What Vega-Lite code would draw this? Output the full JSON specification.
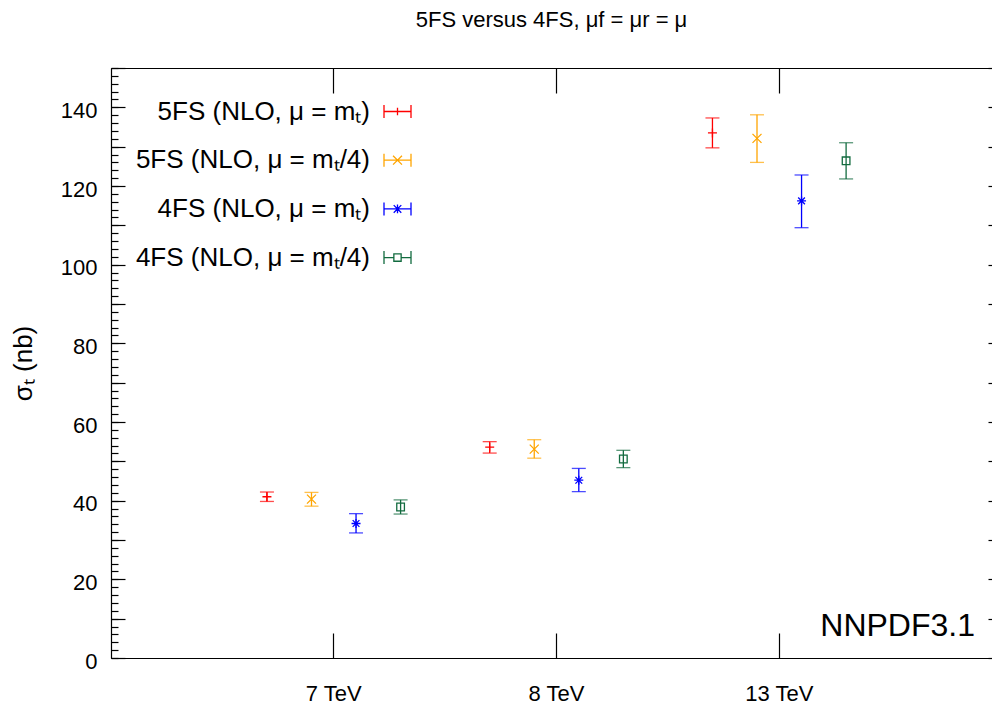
{
  "$schema": "https://vega.github.io/schema/vega-lite/v6.json",
  "width": 881,
  "height": 590,
  "autosize": {"type": "none"},
  "padding": {"left": 111, "top": 68, "right": 0, "bottom": 46},
  "title": {"text": "5FS versus 4FS, μf = μr = μ", "fontSize": 22, "fontWeight": "normal", "offset": 35, "anchor": "middle", "color": "#000"},
  "config": {
    "font": "Liberation Sans",
    "view": {"stroke": null},
    "axis": {"grid": false, "domainColor": "#000", "domainWidth": 1.2, "tickColor": "#000", "tickWidth": 1.2, "labelColor": "#000", "titleColor": "#000"}
  },
  "data": {"values": [
    {"energy": "7 TeV", "series": "5FS (NLO, μ = mₜ)", "val": 41.0, "lo": 39.8, "hi": 42.2},
    {"energy": "7 TeV", "series": "5FS (NLO, μ = mₜ/4)", "val": 40.4, "lo": 38.6, "hi": 42.1},
    {"energy": "7 TeV", "series": "4FS (NLO, μ = mₜ)", "val": 34.2, "lo": 31.8, "hi": 36.7},
    {"energy": "7 TeV", "series": "4FS (NLO, μ = mₜ/4)", "val": 38.4, "lo": 36.6, "hi": 40.2},
    {"energy": "8 TeV", "series": "5FS (NLO, μ = mₜ)", "val": 53.6, "lo": 52.1, "hi": 55.0},
    {"energy": "8 TeV", "series": "5FS (NLO, μ = mₜ/4)", "val": 53.1, "lo": 50.8, "hi": 55.5},
    {"energy": "8 TeV", "series": "4FS (NLO, μ = mₜ)", "val": 45.2, "lo": 42.3, "hi": 48.2},
    {"energy": "8 TeV", "series": "4FS (NLO, μ = mₜ/4)", "val": 50.6, "lo": 48.4, "hi": 52.8},
    {"energy": "13 TeV", "series": "5FS (NLO, μ = mₜ)", "val": 133.5, "lo": 129.7, "hi": 137.3},
    {"energy": "13 TeV", "series": "5FS (NLO, μ = mₜ/4)", "val": 132.1, "lo": 126.0, "hi": 138.1},
    {"energy": "13 TeV", "series": "4FS (NLO, μ = mₜ)", "val": 116.2, "lo": 109.4, "hi": 122.8},
    {"energy": "13 TeV", "series": "4FS (NLO, μ = mₜ/4)", "val": 126.4, "lo": 121.8, "hi": 131.0}
  ]},
  "layer": [
    {
      "mark": {"type": "rule", "strokeWidth": 1.3},
      "encoding": {
        "x": {"field": "energy", "type": "nominal", "sort": ["7 TeV", "8 TeV", "13 TeV"],
              "scale": {"paddingInner": 0, "paddingOuter": 0.4775, "align": 0.5236},
              "axis": {"orient": "bottom", "title": null, "ticks": false, "domain": true, "labelFontSize": 22, "labelPadding": 25, "labelAngle": 0}},
        "xOffset": {"field": "series", "type": "nominal", "sort": ["5FS (NLO, μ = mₜ)", "5FS (NLO, μ = mₜ/4)", "4FS (NLO, μ = mₜ)", "4FS (NLO, μ = mₜ/4)"],
                    "scale": {"paddingInner": 0, "paddingOuter": 0.5}},
        "y": {"field": "lo", "type": "quantitative", "scale": {"domain": [0, 150], "nice": false, "zero": true},
              "axis": {"orient": "left", "values": [0, 20, 40, 60, 80, 100, 120, 140], "ticks": false, "domain": true, "labelFontSize": 22, "labelPadding": 14, "labelOffset": 3, "title": "σₜ (nb)", "titleFontSize": 26, "titleFontWeight": "normal", "titlePadding": 24}},
        "y2": {"field": "hi"},
        "color": {"field": "series", "type": "nominal",
                  "scale": {"domain": ["5FS (NLO, μ = mₜ)", "5FS (NLO, μ = mₜ/4)", "4FS (NLO, μ = mₜ)", "4FS (NLO, μ = mₜ/4)"], "range": ["#ff0000", "#ffa500", "#0000ff", "#126b3f"]},
                  "legend": {"title": null, "orient": "none", "legendX": 272, "legendY": 29, "symbolSize": 729, "symbolStrokeWidth": 1.3, "labelFontSize": 26, "labelAlign": "right", "labelOffset": -42, "labelColor": "#000", "rowPadding": 20.7, "labelLimit": 400,
                             "encode": {"symbols": {"update": {
                               "shape": {"signal": "['M-1,0H1M-1,-0.48V0.48M1,-0.48V0.48M0,-0.28V0.28', 'M-1,0H1M-1,-0.48V0.48M1,-0.48V0.48M-0.33,-0.33L0.33,0.33M-0.33,0.33L0.33,-0.33', 'M-1,0H1M-1,-0.48V0.48M1,-0.48V0.48M0,-0.33V0.33M-0.28,-0.28L0.28,0.28M-0.28,0.28L0.28,-0.28', 'M-1,0H-0.27M0.27,0H1M-1,-0.48V0.48M1,-0.48V0.48M-0.27,-0.27H0.27V0.27H-0.27Z'][datum.index]"},
                               "fill": {"value": "transparent"},
                               "fillOpacity": {"value": 0},
                               "strokeWidth": {"value": 1.3}}}}}}
      }
    },
    {
      "mark": {"type": "tick", "orient": "horizontal", "size": 14, "thickness": 1.3},
      "encoding": {
        "x": {"field": "energy", "type": "nominal", "sort": ["7 TeV", "8 TeV", "13 TeV"],
              "axis": {"orient": "bottom", "title": null, "labels": false, "domain": false, "ticks": true, "tickSize": -25}},
        "xOffset": {"field": "series", "type": "nominal", "sort": ["5FS (NLO, μ = mₜ)", "5FS (NLO, μ = mₜ/4)", "4FS (NLO, μ = mₜ)", "4FS (NLO, μ = mₜ/4)"]},
        "y": {"field": "lo", "type": "quantitative",
              "axis": {"orient": "left", "values": [0, 10, 20, 30, 40, 50, 60, 70, 80, 90, 100, 110, 120, 130, 140, 150], "labels": false, "domain": false, "tickSize": -14, "title": null}},
        "fill": {"field": "series", "type": "nominal", "legend": null,
                 "scale": {"domain": ["5FS (NLO, μ = mₜ)", "5FS (NLO, μ = mₜ/4)", "4FS (NLO, μ = mₜ)", "4FS (NLO, μ = mₜ/4)"], "range": ["#ff0000", "#ffa500", "#0000ff", "#126b3f"]}}
      }
    },
    {
      "mark": {"type": "tick", "orient": "horizontal", "size": 14, "thickness": 1.3},
      "encoding": {
        "x": {"field": "energy", "type": "nominal", "sort": ["7 TeV", "8 TeV", "13 TeV"],
              "axis": {"orient": "top", "title": null, "labels": false, "domain": true, "ticks": true, "tickSize": -25}},
        "xOffset": {"field": "series", "type": "nominal", "sort": ["5FS (NLO, μ = mₜ)", "5FS (NLO, μ = mₜ/4)", "4FS (NLO, μ = mₜ)", "4FS (NLO, μ = mₜ/4)"]},
        "y": {"field": "hi", "type": "quantitative",
              "axis": {"orient": "left", "values": [0, 2, 4, 6, 8, 10, 12, 14, 16, 18, 20, 22, 24, 26, 28, 30, 32, 34, 36, 38, 40, 42, 44, 46, 48, 50, 52, 54, 56, 58, 60, 62, 64, 66, 68, 70, 72, 74, 76, 78, 80, 82, 84, 86, 88, 90, 92, 94, 96, 98, 100, 102, 104, 106, 108, 110, 112, 114, 116, 118, 120, 122, 124, 126, 128, 130, 132, 134, 136, 138, 140, 142, 144, 146, 148, 150], "labels": false, "domain": false, "tickSize": -7, "title": null}},
        "fill": {"field": "series", "type": "nominal", "legend": null}
      }
    },
    {
      "transform": [{"filter": {"field": "series", "equal": "5FS (NLO, μ = mₜ)"}}],
      "mark": {"type": "point", "shape": "M-1,0H1M0,-1V1", "filled": false, "strokeWidth": 1.3, "opacity": 1, "size": 81},
      "encoding": {
        "x": {"field": "energy", "type": "nominal", "sort": ["7 TeV", "8 TeV", "13 TeV"], "axis": null},
        "xOffset": {"field": "series", "type": "nominal", "sort": ["5FS (NLO, μ = mₜ)", "5FS (NLO, μ = mₜ/4)", "4FS (NLO, μ = mₜ)", "4FS (NLO, μ = mₜ/4)"]},
        "y": {"field": "val", "type": "quantitative",
              "axis": {"orient": "right", "values": [0, 10, 20, 30, 40, 50, 60, 70, 80, 90, 100, 110, 120, 130, 140, 150], "labels": false, "domain": false, "tickSize": -4, "title": null}},
        "color": {"field": "series", "type": "nominal"}
      }
    },
    {
      "transform": [{"filter": {"field": "series", "equal": "5FS (NLO, μ = mₜ/4)"}}],
      "mark": {"type": "point", "shape": "M-1,-1L1,1M-1,1L1,-1", "filled": false, "strokeWidth": 1.3, "opacity": 1, "size": 81},
      "encoding": {
        "x": {"field": "energy", "type": "nominal", "sort": ["7 TeV", "8 TeV", "13 TeV"], "axis": null},
        "xOffset": {"field": "series", "type": "nominal", "sort": ["5FS (NLO, μ = mₜ)", "5FS (NLO, μ = mₜ/4)", "4FS (NLO, μ = mₜ)", "4FS (NLO, μ = mₜ/4)"]},
        "y": {"field": "val", "type": "quantitative", "axis": null},
        "color": {"field": "series", "type": "nominal"}
      }
    },
    {
      "transform": [{"filter": {"field": "series", "equal": "4FS (NLO, μ = mₜ)"}}],
      "mark": {"type": "point", "shape": "M-1,0H1M0,-1V1M-0.75,-0.75L0.75,0.75M-0.75,0.75L0.75,-0.75", "filled": false, "strokeWidth": 1.3, "opacity": 1, "size": 81},
      "encoding": {
        "x": {"field": "energy", "type": "nominal", "sort": ["7 TeV", "8 TeV", "13 TeV"], "axis": null},
        "xOffset": {"field": "series", "type": "nominal", "sort": ["5FS (NLO, μ = mₜ)", "5FS (NLO, μ = mₜ/4)", "4FS (NLO, μ = mₜ)", "4FS (NLO, μ = mₜ/4)"]},
        "y": {"field": "val", "type": "quantitative", "axis": null},
        "color": {"field": "series", "type": "nominal"}
      }
    },
    {
      "transform": [{"filter": {"field": "series", "equal": "4FS (NLO, μ = mₜ/4)"}}],
      "mark": {"type": "point", "shape": "M-0.85,-0.85H0.85V0.85H-0.85Z", "filled": false, "strokeWidth": 1.3, "opacity": 1, "size": 81},
      "encoding": {
        "x": {"field": "energy", "type": "nominal", "sort": ["7 TeV", "8 TeV", "13 TeV"], "axis": null},
        "xOffset": {"field": "series", "type": "nominal", "sort": ["5FS (NLO, μ = mₜ)", "5FS (NLO, μ = mₜ/4)", "4FS (NLO, μ = mₜ)", "4FS (NLO, μ = mₜ/4)"]},
        "y": {"field": "val", "type": "quantitative", "axis": null},
        "color": {"field": "series", "type": "nominal"}
      }
    },
    {
      "data": {"values": [{"label": "NNPDF3.1"}]},
      "mark": {"type": "text", "align": "right", "baseline": "alphabetic", "fontSize": 32, "color": "#000", "dx": -17},
      "encoding": {
        "x": {"value": "width"},
        "y": {"datum": 5.6, "type": "quantitative", "axis": null},
        "text": {"field": "label", "type": "nominal"}
      }
    }
  ],
  "resolve": {"axis": {"x": "independent", "y": "independent"}}
}
